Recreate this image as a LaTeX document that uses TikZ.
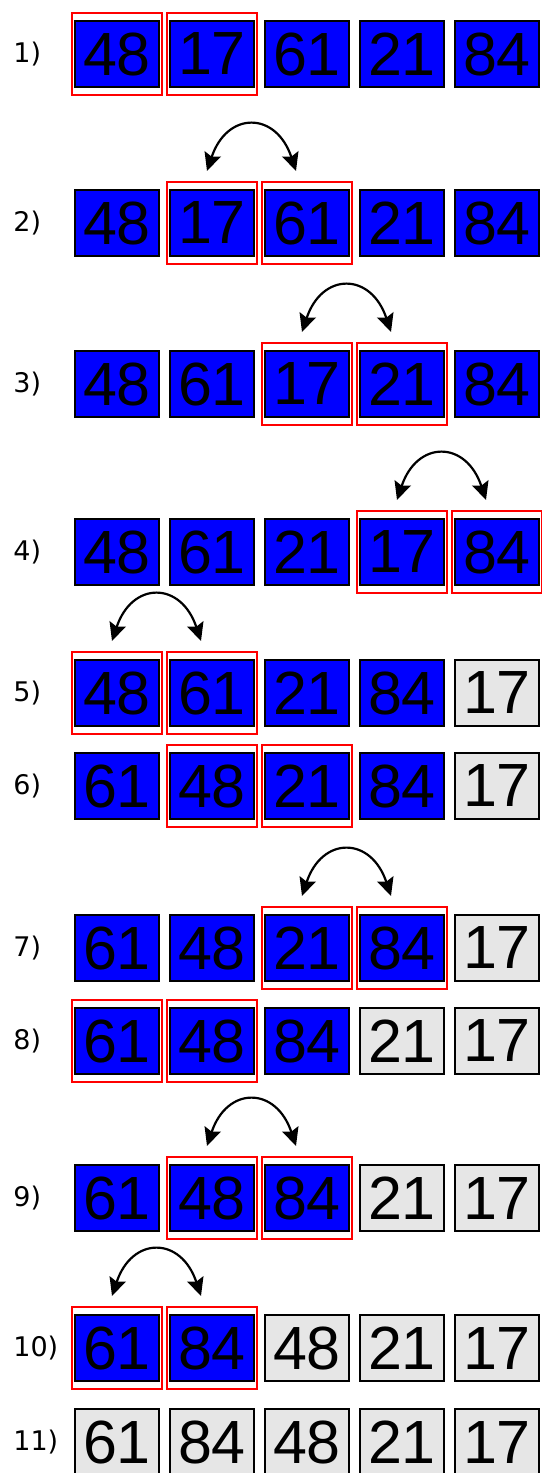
\documentclass[tikz,border=0pt]{standalone}
\usepackage{fontspec}
\setmainfont{Liberation Sans}
\newfontfamily\stepfont{DejaVu Sans}
\usetikzlibrary{arrows.meta,positioning}

\begin{document}
\begin{tikzpicture}[
  x=0.5pt,y=-0.5pt,
  cell/.style={draw,line width=1pt,minimum width=42pt,minimum height=33pt,inner sep=0pt,
    font=\fontsize{30.5}{30.5}\selectfont},
  active/.style={cell,fill=blue},
  done/.style={cell,fill={rgb,255:red,230;green,230;blue,230}},
  pick/.style={draw={rgb,255:red,255;green,0;blue,0},line width=1pt,minimum width=45pt,
    minimum height=41pt,inner sep=0pt},
  rowlabel/.style={anchor=west,inner sep=0pt,font=\stepfont\fontsize{13.5}{13.5}\selectfont},
  swap/.style={line width=1.1pt,
    {Stealth[length=9pt,width=8.5pt,inset=1.5pt]}-{Stealth[length=9pt,width=8.5pt,inset=1.5pt]}}
]
\useasboundingbox (0,0) rectangle (541,1473);

% row / centre y / values / sorted cells at the end / first picked cell
\foreach \r/\y/\vals/\g/\s in {
  1/54/{48,17,61,21,84}/0/1,
  2/223/{48,17,61,21,84}/0/2,
  3/384/{48,61,17,21,84}/0/3,
  4/552/{48,61,21,17,84}/0/4,
  5/693/{48,61,21,84,17}/1/1,
  6/786/{61,48,21,84,17}/1/2,
  7/948/{61,48,21,84,17}/1/3,
  8/1041/{61,48,84,21,17}/2/1,
  9/1198/{61,48,84,21,17}/2/2,
  10/1348/{61,84,48,21,17}/3/1,
  11/1442/{61,84,48,21,17}/5/0}{
  \node[rowlabel] (l-\r) at (13,\y) {\r)};
  \foreach \v [count=\c] in \vals {
    \ifnum\c>\numexpr5-\g\relax \def\kind{done}\else\def\kind{active}\fi
    \node[\kind] (n-\r-\c) at (117+95*\c-95,\y) {\v};
  }
  \ifnum\s>0
    \pgfmathtruncatemacro\t{\s+1}
    \node[pick] (s-\r-\s) at (n-\r-\s) {};
    \node[pick] (s-\r-\t) at (n-\r-\t) {};
  \fi
}

% swap arrows above the picked pair
\foreach \r/\c in {2/2,3/3,4/4,5/1,7/3,9/2,10/1}{
  \pgfmathtruncatemacro\d{\c+1}
  \coordinate (a-\r-l) at ([shift={(-5,-52)}]n-\r-\c.center);
  \coordinate (a-\r-r) at ([shift={(-11,-52)}]n-\r-\d.center);
  \draw[swap] (a-\r-l) .. controls +(20,-60) and +(-20,-60) .. (a-\r-r);
}

\end{tikzpicture}
\end{document}
